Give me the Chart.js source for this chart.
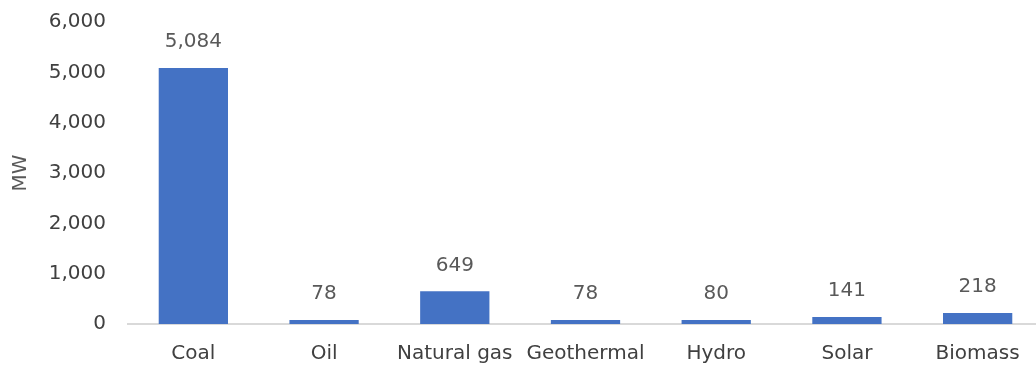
<!DOCTYPE html>
<html lang="en">
<head>
<meta charset="UTF-8">
<title>Installed capacity by source</title>
<script src="https://cdn.jsdelivr.net/npm/chart.js@4.4.1/dist/chart.umd.min.js"></script>
<style>
  html, body { margin: 0; padding: 0; background: #fff; overflow: hidden; }
  #wrap { width: 1043px; height: 367px; }
</style>
</head>
<body>
<div id="wrap"><canvas id="capChart"></canvas></div>
<script>
var sources = ['Coal', 'Oil', 'Natural gas', 'Geothermal', 'Hydro', 'Solar', 'Biomass'];
var capacityMW = [5084, 78, 649, 78, 80, 141, 218];
var yTicks = [0, 1000, 2000, 3000, 4000, 5000, 6000];

// value labels above each bar
var barValues = {
  id: 'barValues',
  afterDatasetsDraw: function(chart) {
    var ctx = chart.ctx;
    var meta = chart.getDatasetMeta(0);
    ctx.save();
    ctx.font = '20px "DejaVu Sans"';
    ctx.fillStyle = '#595959';
    ctx.textAlign = 'center';
    ctx.textBaseline = 'bottom';
    meta.data.forEach(function(bar, i) {
      ctx.fillText(capacityMW[i].toLocaleString('en-US'), bar.x, bar.y - 16);
    });
    ctx.restore();
  }
};

new Chart(document.getElementById('capChart'), {
  type: 'bar',
  data: {
    labels: sources,
    datasets: [{
      data: capacityMW,
      backgroundColor: '#4472C4',
      barPercentage: 0.53,
      categoryPercentage: 1
    }]
  },
  options: {
    responsive: true,
    maintainAspectRatio: false,
    animation: false,
    layout: { padding: { top: 22, left: 0, right: 0, bottom: 0 } },
    plugins: { legend: { display: false }, tooltip: { enabled: false } },
    scales: {
      x: {
        afterFit: function(axis) { axis.height = 43; },
        grid: { display: false, drawTicks: false },
        border: { color: '#d9d9d9', width: 2 },
        ticks: { color: '#404040', font: { family: 'DejaVu Sans', size: 20 }, padding: 18, maxRotation: 0, autoSkip: false }
      },
      y: {
        min: 0,
        max: 6000,
        afterBuildTicks: function(axis) {
          axis.ticks = yTicks.map(function(v) { return { value: v }; });
        },
        afterFit: function(axis) {
          axis.width = 128;
          axis.paddingTop = 0;
          axis.paddingBottom = 0;
        },
        grid: { display: false, drawTicks: false },
        border: { display: false },
        ticks: {
          color: '#404040',
          font: { family: 'DejaVu Sans', size: 20 },
          padding: 22,
          callback: function(v) { return v.toLocaleString('en-US'); }
        },
        title: {
          display: true,
          text: 'MW',
          color: '#595959',
          font: { family: 'DejaVu Sans', size: 20 },
          padding: { top: 9, bottom: 0 }
        }
      }
    }
  },
  plugins: [barValues]
});
</script>
</body>
</html>
